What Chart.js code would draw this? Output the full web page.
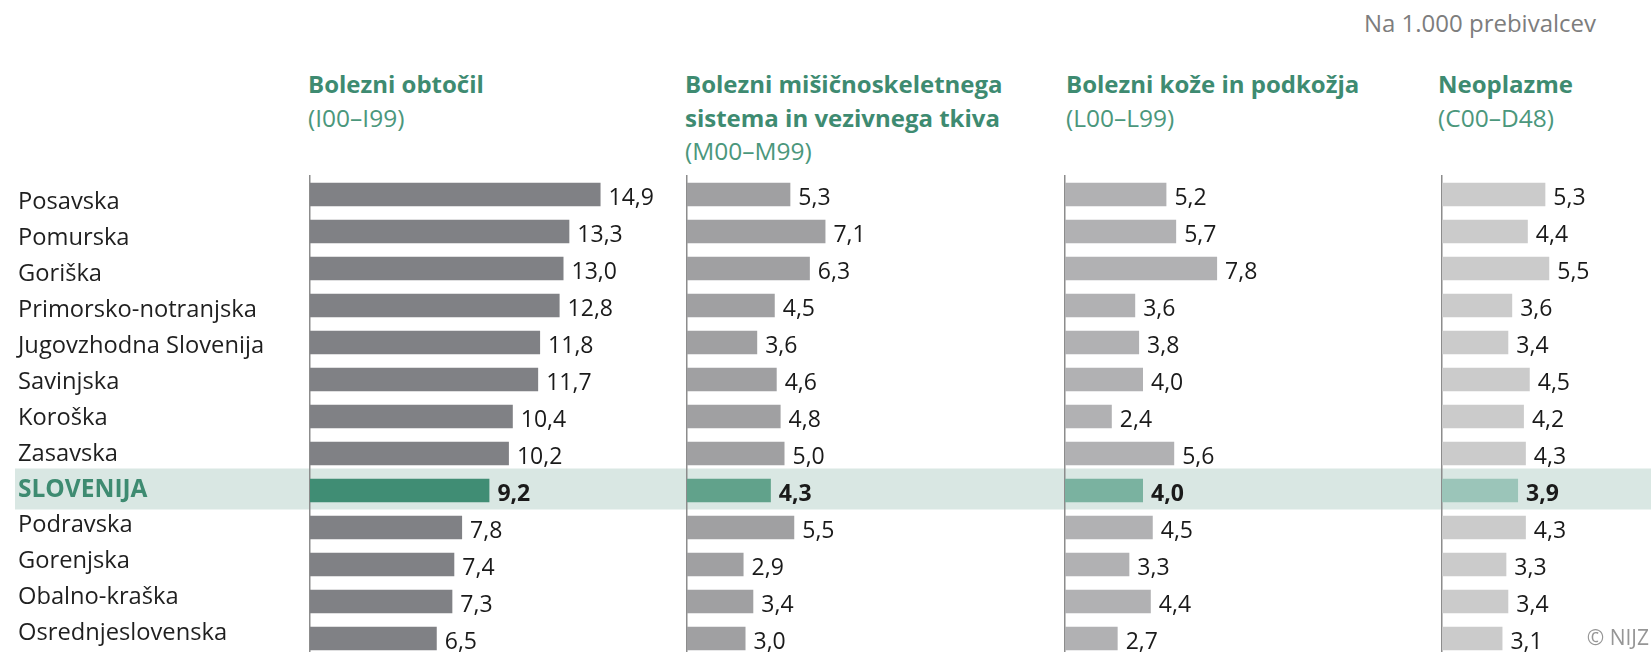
<!DOCTYPE html>
<html lang="sl">
<head>
<meta charset="utf-8">
<title>Regije - na 1.000 prebivalcev</title>
<script src="https://cdn.jsdelivr.net/npm/chart.js@4.4.1/dist/chart.umd.min.js"></script>
<style>
    html, body { margin: 0; padding: 0; background: #fff; }
    body {
        width: 1651px; height: 652px; overflow: hidden; position: relative;
        font-family: "Open Sans", sans-serif;
    }
    canvas { position: absolute; top: 0; }
    .head {
        position: absolute; top: 67px;
        font-size: 24px; line-height: 33.5px; color: #3e8b71; white-space: nowrap;
    }
    .head b { font-weight: 700; }
    .head span { font-weight: 400; font-size: 24.5px; color: #4b977c; }
    #unit {
        position: absolute; top: 6px; right: 55px;
        font-size: 24px; line-height: 33px; color: #7d7d7d;
    }
    #copy {
        position: absolute; top: 623px; right: 2px; z-index: 2;
        font-size: 21px; line-height: 28px; color: #969696;
    }
</style>
</head>
<body>
<div id="unit">Na 1.000 prebivalcev</div>

<div class="head" style="left:308px"><b>Bolezni obtočil</b><br><span>(I00–I99)</span></div>
<div class="head" style="left:685px"><b>Bolezni mišičnoskeletnega<br>sistema in vezivnega tkiva</b><br><span>(M00–M99)</span></div>
<div class="head" style="left:1066px"><b>Bolezni kože in podkožja</b><br><span>(L00–L99)</span></div>
<div class="head" style="left:1438px"><b>Neoplazme</b><br><span>(C00–D48)</span></div>

<canvas id="graf1" width="685" height="662" style="left:0px"></canvas>
<canvas id="graf2" width="378" height="662" style="left:685px"></canvas>
<canvas id="graf3" width="377" height="662" style="left:1063px"></canvas>
<canvas id="graf4" width="377" height="662" style="left:1440px"></canvas>

<div id="copy">© NIJZ</div>

<script>
// Podatki
const regije = [
    "Posavska", "Pomurska", "Goriška", "Primorsko-notranjska", "Jugovzhodna Slovenija",
    "Savinjska", "Koroška", "Zasavska", "SLOVENIJA", "Podravska", "Gorenjska",
    "Obalno-kraška", "Osrednjeslovenska"
];
const obtocil   = [14.9, 13.3, 13.0, 12.8, 11.8, 11.7, 10.4, 10.2, 9.2, 7.8, 7.4, 7.3, 6.5];
const misicno   = [5.3, 7.1, 6.3, 4.5, 3.6, 4.6, 4.8, 5.0, 4.3, 5.5, 2.9, 3.4, 3.0];
const koza      = [5.2, 5.7, 7.8, 3.6, 3.8, 4.0, 2.4, 5.6, 4.0, 4.5, 3.3, 4.4, 2.7];
const neoplazme = [5.3, 4.4, 5.5, 3.6, 3.4, 4.5, 4.2, 4.3, 3.9, 4.3, 3.3, 3.4, 3.1];

const slovenijaIdx = regije.indexOf("SLOVENIJA");
const PX_NA_ENOTO = 19.5;
// vrstice imen so v izvirniku malo gostejše od stolpcev
const ZGOSTITEV_IMEN = 35.9 / 37;

Chart.defaults.font.family = "'Open Sans', sans-serif";

// Pas za vrstico SLOVENIJA (pod osmi in napisi)
const pasSlovenija = {
    id: "pasSlovenija",
    beforeDraw(chart, args, opts) {
        const y = chart.scales.y.getPixelForValue(slovenijaIdx);
        const ctx = chart.ctx;
        ctx.save();
        ctx.fillStyle = "#d9e7e3";
        ctx.fillRect(opts.left || 0, y - 22, chart.width, 41);
        ctx.restore();
    }
};

// Imena regij levo od prve osi
const imenaRegij = {
    id: "imenaRegij",
    afterDraw(chart, args, opts) {
        if (!opts.prikazi) return;
        const ys = chart.scales.y;
        const p0 = ys.getPixelForValue(0);
        const ctx = chart.ctx;
        ctx.save();
        ctx.textAlign = "left";
        ctx.textBaseline = "alphabetic";
        regije.forEach((ime, i) => {
            const sl = i === slovenijaIdx;
            ctx.font = sl ? "bold 24.5px 'Open Sans'" : "23.7px 'Open Sans'";
            ctx.fillStyle = sl ? "#3e8b71" : "#1f1f1f";
            const y = p0 + 14.8 + (ys.getPixelForValue(i) - p0) * ZGOSTITEV_IMEN;
            ctx.fillText(ime, 18, y);
        });
        ctx.restore();
    }
};

// Vrednosti desno od stolpcev
const vrednosti = {
    id: "vrednosti",
    afterDatasetsDraw(chart) {
        const ctx = chart.ctx;
        const meta = chart.getDatasetMeta(0);
        const data = chart.data.datasets[0].data;
        ctx.save();
        ctx.fillStyle = "#1a1a1a";
        ctx.textAlign = "left";
        ctx.textBaseline = "alphabetic";
        meta.data.forEach((bar, i) => {
            ctx.font = (i === slovenijaIdx ? "bold " : "") + "23px 'Open Sans'";
            ctx.fillText(data[i].toFixed(1).replace(".", ","), bar.x + 8, bar.y + 10.5);
        });
        ctx.restore();
    }
};

function narisiGraf(id, podatki, barva, poudarek, prvi) {
    const canvas = document.getElementById(id);
    const levo = prvi ? 310 : 2;
    const maxX = (canvas.width - levo) / PX_NA_ENOTO;

    return new Chart(canvas, {
        type: "bar",
        data: {
            labels: regije,
            datasets: [{
                data: podatki,
                backgroundColor: regije.map((r, i) => (i === slovenijaIdx ? poudarek : barva)),
                barPercentage: 0.635,
                categoryPercentage: 1,
            }],
        },
        options: {
            indexAxis: "y",
            responsive: false,
            animation: false,
            layout: { padding: { top: 176, bottom: 5, left: prvi ? 18 : 2, right: 0 } },
            plugins: {
                legend: { display: false },
                tooltip: { enabled: false },
                pasSlovenija: { left: prvi ? 15 : 0 },
                imenaRegij: { prikazi: prvi },
            },
            scales: {
                x: { display: false, min: 0, max: maxX },
                y: {
                    z: 1,
                    grid: { display: false, drawTicks: false },
                    border: { display: true, color: "#8c8c8c", width: 1.5 },
                    ticks: { display: false },
                    afterFit: (s) => {
                        s.width = prvi ? 292 : 0;
                        s.paddingTop = 0;
                        s.paddingBottom = 0;
                    },
                },
            },
        },
        plugins: [pasSlovenija, vrednosti, imenaRegij],
    });
}

narisiGraf("graf1", obtocil, "#808185", "#408d74", true);
narisiGraf("graf2", misicno, "#a0a0a2", "#61a28b", false);
narisiGraf("graf3", koza, "#b1b1b3", "#7ab2a0", false);
narisiGraf("graf4", neoplazme, "#cbcbcb", "#9bc5b9", false);
</script>
</body>
</html>
